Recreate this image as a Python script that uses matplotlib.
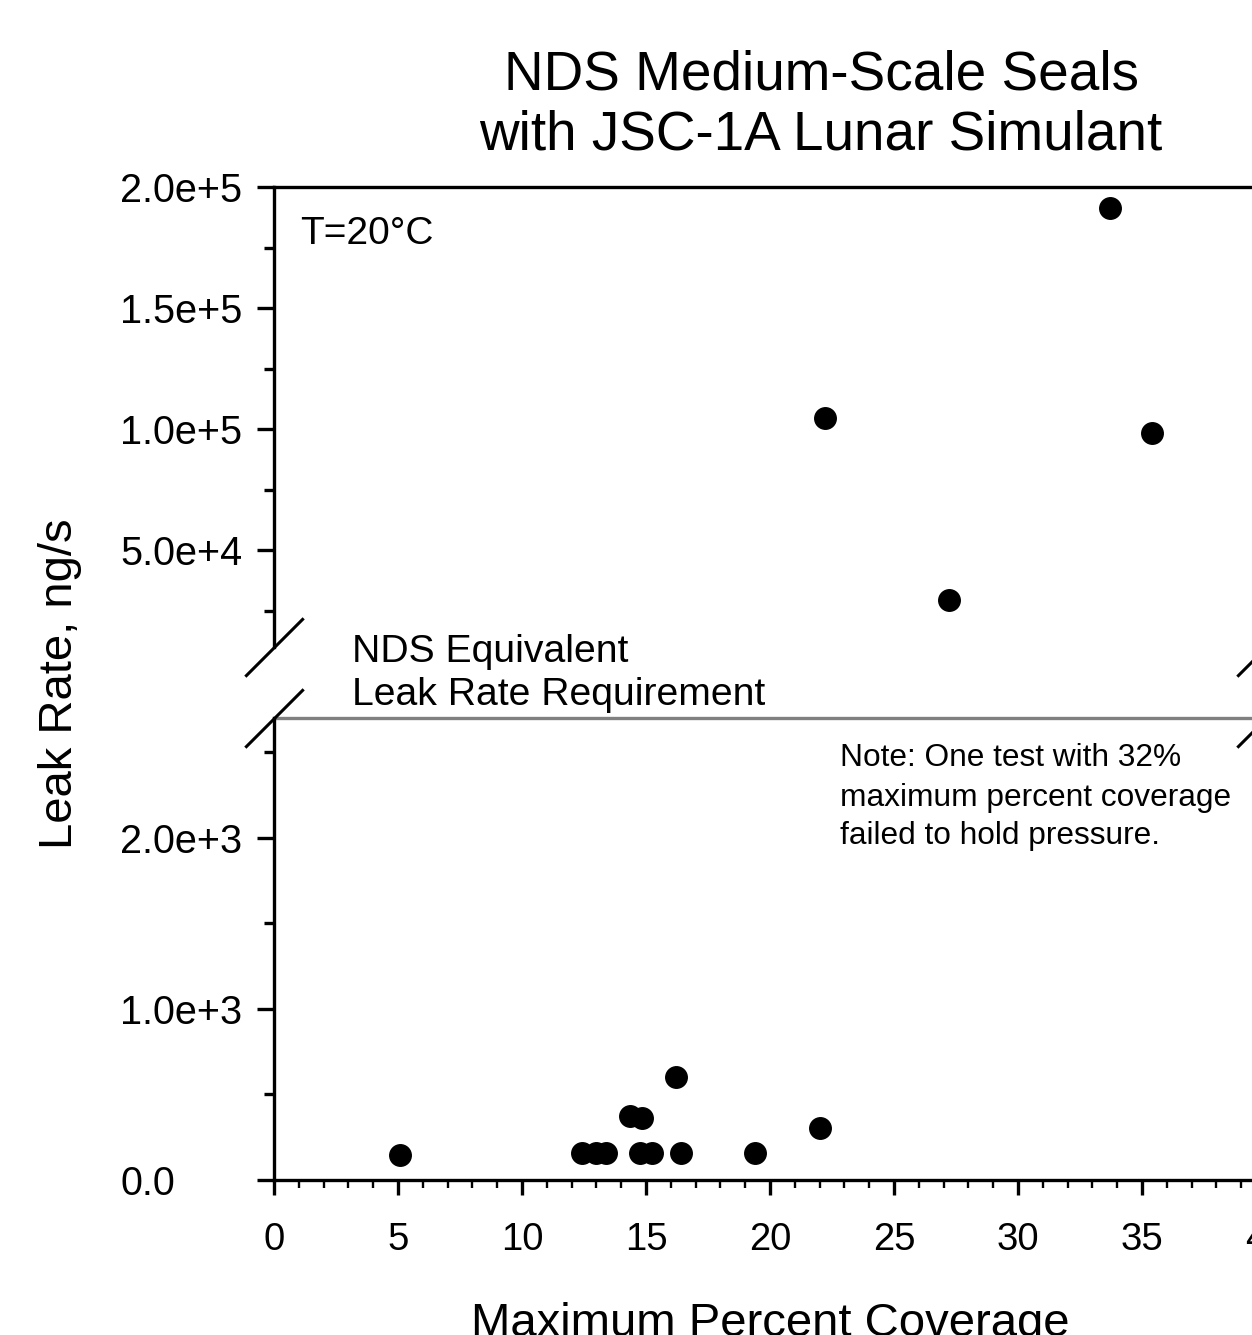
import numpy as np
import matplotlib
matplotlib.use('Agg')
import matplotlib.pyplot as plt

plt.rcParams['font.family'] = ['Liberation Sans', 'DejaVu Sans']

# Data
# upper panel (high leak rates)
x_high = [22.2, 27.2, 33.7, 35.4]
y_high = [104700, 29300, 191300, 98500]
# lower panel (low leak rates)
x_low = [5.1, 12.4, 13.0, 13.4, 14.35, 14.85, 14.75, 15.25, 16.2, 16.4, 19.4, 22.0]
y_low = [146, 155, 155, 155, 374, 362, 155, 155, 602, 158, 158, 304]

requirement = 2700  # NDS equivalent leak rate requirement, ng/s

x_ticks = [0, 5, 10, 15, 20, 25, 30, 35, 40]
x_labels = ['0', '5', '10', '15', '20', '25', '30', '35', '40']
high_ticks = [50000, 100000, 150000, 200000]
high_labels = ['5.0e+4', '1.0e+5', '1.5e+5', '2.0e+5']
low_ticks = [0, 1000, 2000]
low_labels = ['0.0', '1.0e+3', '2.0e+3']

W, H = 1252, 1335
fig = plt.figure(figsize=(W / 100, H / 100), dpi=100)

def fx(px):
    return px / W

def fy(py):
    return 1 - py / H

left = fx(274)
width = (1266 - 274) / W
ax_top = fig.add_axes([left, fy(647), width, (647 - 187) / H])
ax_bot = fig.add_axes([left, fy(1180), width, (1180 - 718) / H])

lw = 2.4
ytick_len = 12
# y labels are left aligned at x=120 px
ypad = (274 - 120) * 72 / 100 - ytick_len
for ax in (ax_top, ax_bot):
    ax.set_xlim(0, 40)
    ax.spines['right'].set_visible(False)
    ax.spines['left'].set_linewidth(lw)
    ax.tick_params(axis='y', which='major', length=ytick_len, width=lw, labelsize=28.5, pad=ypad)
    ax.tick_params(axis='y', which='minor', length=7, width=lw)

# top panel
ax_top.scatter(x_high, y_high, s=240, color='black', zorder=3)
ax_top.set_ylim(10000, 200000)
ax_top.set_yticks(high_ticks)
ax_top.set_yticklabels(high_labels, ha='left')
ax_top.set_yticks([25000, 75000, 125000, 175000], minor=True)
ax_top.spines['bottom'].set_visible(False)
ax_top.spines['top'].set_linewidth(lw)
ax_top.set_xticks([])

# bottom panel
ax_bot.scatter(x_low, y_low, s=240, color='black', zorder=3)
ax_bot.set_ylim(0, requirement)
ax_bot.set_yticks(low_ticks)
ax_bot.set_yticklabels(low_labels, ha='left')
ax_bot.set_yticks([500, 1500, 2500], minor=True)
ax_bot.spines['top'].set_visible(False)
ax_bot.spines['bottom'].set_linewidth(lw)
ax_bot.axhline(requirement, color='#808080', lw=2.4, clip_on=False, zorder=2)
ax_bot.set_xticks(x_ticks)
ax_bot.set_xticklabels(x_labels)
ax_bot.set_xticks(np.arange(0, 41, 1), minor=True)
ax_bot.tick_params(axis='x', which='major', length=11, width=lw, labelsize=27.5, pad=19)
ax_bot.tick_params(axis='x', which='minor', length=6, width=1.7)

# axis break marks
brk = dict(marker=[(-1, -1), (1, 1)], markersize=42, linestyle='none',
           color='k', mec='k', mew=2.2, clip_on=False)
ax_top.plot([0, 1], [0, 0], transform=ax_top.transAxes, **brk)
ax_bot.plot([0, 1], [1, 1], transform=ax_bot.transAxes, **brk)

# texts
title_lines = ['NDS Medium-Scale Seals', 'with JSC-1A Lunar Simulant']
for line, base in zip(title_lines, [90, 150]):
    fig.text(fx(821), fy(base), line, ha='center', va='baseline', fontsize=39.5)

fig.text(fx(300), fy(244), 'T=20°C', ha='left', va='baseline', fontsize=28)

for line, base in zip(['NDS Equivalent', 'Leak Rate Requirement'], [662, 705]):
    fig.text(fx(352), fy(base), line, ha='left', va='baseline', fontsize=28.2)

note_lines = ['Note: One test with 32%', 'maximum percent coverage', 'failed to hold pressure.']
for line, base in zip(note_lines, [766, 806, 844]):
    fig.text(fx(840), fy(base), line, ha='left', va='baseline', fontsize=22.8)

fig.text(fx(60), fy(684), 'Leak Rate, ng/s', rotation=90, ha='center', va='center', fontsize=34)
fig.text(fx(770), fy(1336), 'Maximum Percent Coverage', ha='center', va='baseline', fontsize=34)

fig.savefig('out.png', dpi=100)
